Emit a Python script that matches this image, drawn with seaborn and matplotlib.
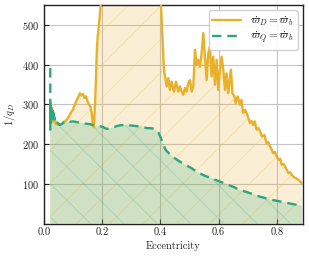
import numpy as np
import pandas as pd
import matplotlib
matplotlib.use("Agg")
import matplotlib.pyplot as plt
import seaborn as sns

# Data
ecc_D = [0.022, 0.023, 0.024, 0.025, 0.027, 0.029, 0.031, 0.034, 0.038, 0.042, 0.046, 0.050,
         0.056, 0.062, 0.068, 0.074, 0.080, 0.087, 0.094, 0.100, 0.106, 0.113, 0.120, 0.124,
         0.130, 0.135, 0.140, 0.145, 0.150, 0.155, 0.160, 0.164, 0.167, 0.170, 0.172, 0.176,
         0.179, 0.182, 0.185, 0.188, 0.192, 0.196, 0.22, 0.26, 0.30, 0.34, 0.37, 0.395,
         0.402, 0.405, 0.4078, 0.410, 0.4124, 0.4216, 0.4273, 0.433, 0.4387, 0.4467, 0.4535,
         0.4616, 0.4673, 0.473, 0.4787, 0.4844, 0.4901, 0.4958, 0.5016, 0.5073, 0.513, 0.5187,
         0.5244, 0.5301, 0.5358, 0.5415, 0.5473, 0.553, 0.5587, 0.5644, 0.5701, 0.5758, 0.5815,
         0.5873, 0.593, 0.5987, 0.6044, 0.6101, 0.6158, 0.6216, 0.627, 0.633, 0.639, 0.642,
         0.647, 0.654, 0.658, 0.665, 0.673, 0.678, 0.684, 0.690, 0.696, 0.702, 0.707, 0.713,
         0.719, 0.724, 0.730, 0.736, 0.742, 0.748, 0.757, 0.764, 0.770, 0.776, 0.782, 0.787,
         0.793, 0.799, 0.805, 0.811, 0.816, 0.822, 0.827, 0.833, 0.839, 0.845, 0.850, 0.856,
         0.862, 0.868, 0.873, 0.879, 0.885]
q_D = [300, 256, 305, 268, 292, 262, 270, 256, 262, 250, 254, 248,
       251, 250, 256, 258, 262, 270, 280, 286, 298, 310, 320, 328,
       322, 326, 316, 320, 308, 300, 294, 280, 262, 245, 242, 300,
       360, 430, 470, 490, 520, 560, 700, 760, 780, 740, 680, 600,
       560, 500, 462, 420, 387, 345, 366, 336, 357, 332, 357,
       332, 345, 332, 324, 341, 332, 353, 361, 332, 345, 437,
       399, 412, 395, 429, 479, 420, 361, 429, 445, 370, 420,
       349, 412, 336, 387, 420, 387, 336, 378, 328, 370, 387,
       328, 320, 303, 320, 299, 311, 278, 286, 278, 265, 253, 258,
       248, 257, 236, 240, 232, 219, 223, 202, 205, 194, 186, 177,
       180, 169, 160, 163, 148, 150, 144, 136, 127, 129, 123, 118,
       115, 113, 110, 106, 102]

ecc_Q = [0.0225, 0.0227, 0.0229, 0.023, 0.024, 0.025, 0.026, 0.028, 0.030, 0.032, 0.034,
         0.037, 0.040, 0.044, 0.049, 0.055, 0.062, 0.067, 0.073, 0.079, 0.090, 0.102,
         0.113, 0.125, 0.136, 0.147, 0.158, 0.170, 0.181, 0.193, 0.205, 0.216, 0.228,
         0.239, 0.250, 0.261, 0.273, 0.284, 0.296, 0.307, 0.318, 0.330, 0.341, 0.353,
         0.365, 0.375, 0.382, 0.388, 0.394, 0.400, 0.406, 0.412, 0.4175, 0.425, 0.433,
         0.440, 0.450, 0.462, 0.476, 0.490, 0.505, 0.520, 0.533, 0.550, 0.567, 0.585,
         0.602, 0.620, 0.637, 0.654, 0.671, 0.688, 0.705, 0.722, 0.739, 0.760, 0.780,
         0.800, 0.820, 0.840, 0.860, 0.886]
q_Q = [391, 236, 300, 262, 295, 266, 290, 262, 285, 265, 278,
       262, 268, 256, 252, 248, 250, 253, 256, 259, 256, 257,
       255, 254, 252, 251, 250, 248, 246, 245, 242, 238, 240,
       242, 245, 247, 248, 249, 247, 246, 245, 245, 243, 240,
       240, 239, 236, 234, 228, 218, 207, 196, 186, 180, 174,
       169, 164, 158, 152, 146, 140, 133, 127, 121, 116, 111,
       106, 101, 96, 91, 85, 81, 77, 73, 68, 64, 60,
       57, 54, 51, 48, 45]

labels = [r"$\dot{\varpi}_D = \dot{\varpi}_b$", r"$\dot{\varpi}_Q = \dot{\varpi}_b$"]
x_ticks = [0.0, 0.2, 0.4, 0.6, 0.8]
y_ticks = [100, 200, 300, 400, 500]

c_D = "#E9B12A"
c_Q = "#2CA67E"

sns.set_style("whitegrid")
plt.rcParams.update({
    "font.family": "serif",
    "font.serif": ["cmr10", "DejaVu Serif"],
    "mathtext.fontset": "cm",
    "axes.formatter.use_mathtext": True,
    "axes.unicode_minus": False,
    "axes.edgecolor": "#222222",
    "axes.linewidth": 1.0,
    "grid.color": "#c4c4c4",
    "grid.linewidth": 0.8,
    "xtick.direction": "in",
    "ytick.direction": "in",
    "xtick.bottom": True,
    "ytick.left": True,
    "xtick.major.size": 3.5,
    "ytick.major.size": 3.5,
    "xtick.color": "#222222",
    "ytick.color": "#222222",
    "hatch.linewidth": 0.8,
})

fig = plt.figure(figsize=(3.09, 2.59), dpi=100)
ax = fig.add_axes([0.1414, 0.137, 0.840, 0.844])

dfD = pd.DataFrame({"e": ecc_D, "q": q_D})
dfQ = pd.DataFrame({"e": ecc_Q, "q": q_Q})

ax.fill_between(dfD["e"], dfD["q"], 0, facecolor=c_D, alpha=0.2, hatch="/",
                edgecolor=c_D, linewidth=0, zorder=1)
ax.fill_between(dfQ["e"], dfQ["q"], 0, facecolor=c_Q, alpha=0.2, hatch="\\",
                edgecolor=c_Q, linewidth=0, zorder=1.1)

sns.lineplot(data=dfD, x="e", y="q", ax=ax, color=c_D, linewidth=1.7,
             label=labels[0], sort=False, estimator=None, zorder=3)
sns.lineplot(data=dfQ, x="e", y="q", ax=ax, color=c_Q, linewidth=1.7,
             linestyle=(0, (4, 2.5)), label=labels[1], sort=False, estimator=None, zorder=3)

ax.set_xlim(0, 0.89)
ax.set_ylim(0, 550)
ax.set_xticks(x_ticks)
ax.set_yticks(y_ticks)
ax.set_xticklabels([f"{t:.1f}" for t in x_ticks])
ax.tick_params(labelsize=7.5, pad=3)
ax.set_xlabel("Eccentricity", fontsize=7.5, labelpad=3)
ax.set_ylabel(r"$1/q_D$", fontsize=7.5, labelpad=3)
ax.grid(True, zorder=0)
ax.set_axisbelow(True)

leg = ax.legend(loc="upper right", fontsize=8, frameon=True, fancybox=True,
                framealpha=0.9, edgecolor="#cccccc", handlelength=2.6,
                borderpad=0.35, labelspacing=0.2, handletextpad=0.8,
                borderaxespad=0.5)

fig.savefig("out.png", dpi=100)
